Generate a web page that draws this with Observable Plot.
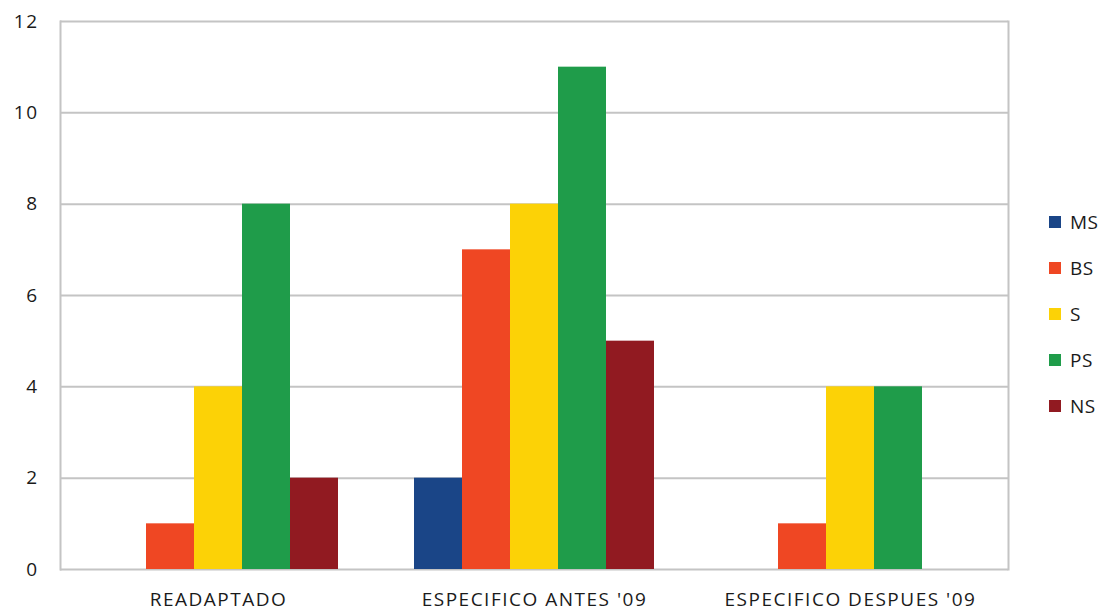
<!DOCTYPE html>
<html>
<head>
<meta charset="utf-8">
<script src="https://cdn.jsdelivr.net/npm/d3@7"></script>
<script src="https://cdn.jsdelivr.net/npm/@observablehq/plot@0.6"></script>
<style>
  body { margin: 0; background: #fff; font-family: "Open Sans", "DejaVu Sans", sans-serif; }
  #wrap { position: relative; width: 1106px; height: 613px; }
  #legend { position: absolute; left: 1049px; top: 199px; font-size: 19px; color: #1a1a1a; letter-spacing: 0.5px; }
  .row { display: flex; align-items: center; height: 46px; }
  .sw { width: 12px; height: 12px; margin-right: 9px; }
  svg text { letter-spacing: 1.5px; }
</style>
</head>
<body>
<div id="wrap"><div id="chart"></div><div id="legend"></div></div>
<script>
const categories = ["READAPTADO", "ESPECIFICO ANTES '09", "ESPECIFICO DESPUES '09"];
const series = ["MS", "BS", "S", "PS", "NS"];
const readaptado = [0, 1, 4, 8, 2];
const especificoAntes = [2, 7, 8, 11, 5];
const especificoDespues = [0, 1, 4, 4, 0];
const colors = ["#1a4587", "#ef4723", "#fcd206", "#1f9c4a", "#911a21"];
const yTicks = [0, 2, 4, 6, 8, 10, 12];

const valuesByCategory = [readaptado, especificoAntes, especificoDespues];
const data = [];
categories.forEach((c, i) => series.forEach((s, j) => data.push({category: c, series: s, value: valuesByCategory[i][j]})));

const chart = Plot.plot({
  width: 1020,
  height: 613,
  marginLeft: 59,
  marginRight: 11,
  marginTop: 21,
  marginBottom: 44,
  style: {fontFamily: "'Open Sans', sans-serif", fontSize: "19px", color: "#1a1a1a", background: "#fff"},
  fx: {domain: categories, padding: 0, label: null, tickSize: 0, tickPadding: 23, axis: "bottom"},
  x: {domain: series, paddingInner: 0, paddingOuter: 0.745, axis: null},
  y: {domain: [0, 12], ticks: yTicks, label: null, tickSize: 0, tickPadding: 22},
  color: {domain: series, range: colors},
  marks: [
    Plot.gridY(yTicks, {stroke: "#c4c4c4", strokeOpacity: 1, strokeWidth: 2}),
    Plot.frame({anchor: "left", facetAnchor: "left", stroke: "#c4c4c4", strokeWidth: 2}),
    Plot.frame({anchor: "right", facetAnchor: "right", stroke: "#c4c4c4", strokeWidth: 2}),
    Plot.barY(data, {fx: "category", x: "series", y: "value", fill: "series"})
  ]
});
document.getElementById("chart").appendChild(chart);

const legend = document.getElementById("legend");
series.forEach((s, i) => {
  const row = document.createElement("div");
  row.className = "row";
  const sw = document.createElement("div");
  sw.className = "sw";
  sw.style.background = colors[i];
  const t = document.createElement("span");
  t.textContent = s;
  row.appendChild(sw);
  row.appendChild(t);
  legend.appendChild(row);
});
</script>
</body>
</html>
